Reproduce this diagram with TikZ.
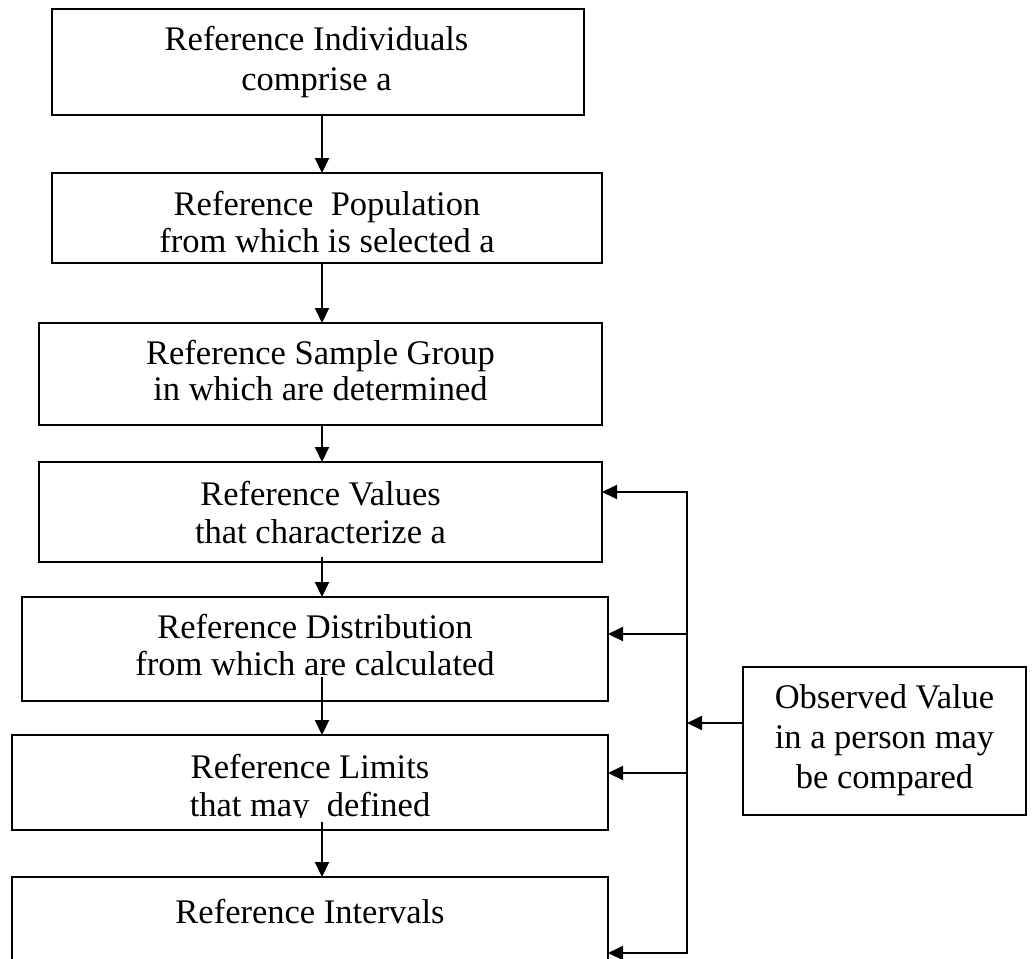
\documentclass[tikz,border=0pt]{standalone}
\usepackage{fontspec}
\setmainfont{Liberation Serif}
\usetikzlibrary{arrows.meta}
\tikzset{
  box/.style={draw, line width=2pt, inner sep=0pt, outer sep=0pt, rectangle},
  txt/.style={inner sep=0pt, outer sep=0pt, anchor=base, font=\fontsize{34.5}{36}\selectfont},
  arr/.style={line width=2pt, -{Triangle[length=15pt, width=14pt]}},
  ln/.style={line width=2pt},
}
\begin{document}
\begin{tikzpicture}[x=1pt, y=-1pt]
\clip (0,0) rectangle (1032,958);
\fill[white] (0,0) rectangle (1032,958);
% boxes
\node[box, minimum width=532pt, minimum height=106pt] (b1) at (318,62) {};
\node[box, minimum width=550pt, minimum height=90pt] (b2) at (327,218) {};
\node[box, minimum width=563pt, minimum height=102pt] (b3) at (320.5,374) {};
\node[box, minimum width=563pt, minimum height=100pt] (b4) at (320.5,512) {};
\node[box, minimum width=586pt, minimum height=104pt] (b5) at (315,649) {};
\node[box, minimum width=596pt, minimum height=95pt] (b6) at (310,782.5) {};
\node[box, minimum width=596pt, minimum height=100pt] (b7) at (310,927) {};
\node[box, minimum width=283pt, minimum height=148pt] (obs) at (884.5,741) {};
% texts
\node[txt] (t1a) at (316.5,51) {Reference Individuals};
\node[txt] (t1b) at (316.5,90) {comprise a};
\node[txt] (t2a) at (327,215) {Reference\ \ Population};
\begin{scope}
\clip (52,173) rectangle (602,253);
\node[txt] (t2b) at (327,252) {from which is selected a};
\end{scope}
\node[txt] (t3a) at (320.5,364) {Reference Sample Group};
\node[txt] (t3b) at (320.5,400) {in which are determined};
\node[txt] (t4a) at (320.5,505) {Reference Values};
\node[txt] (t4b) at (320.5,543) {that characterize a};
\node[txt] (t5a) at (315,638) {Reference Distribution};
\node[txt] (t5b) at (315,675) {from which are calculated};
\node[txt] (t6a) at (310,778) {Reference Limits};
\begin{scope}
\clip (12,735) rectangle (608,817);
\node[txt] (t6b) at (310,816) {that may\ \ defined};
\end{scope}
\node[txt] (t7a) at (310,923) {Reference Intervals};
\node[txt] (toa) at (884.5,708) {Observed Value};
\node[txt] (tob) at (884.5,748) {in a person may};
\node[txt] (toc) at (884.5,788) {be compared};
% down arrows
\coordinate (ax) at (322,0);
\coordinate (s4) at (322,557);
\coordinate (s5) at (322,677);
\coordinate (s6) at (322,822);
\draw[arr] (b1.south -| ax) -- (b2.north -| ax);
\draw[arr] (b2.south -| ax) -- (b3.north -| ax);
\draw[arr] (b3.south -| ax) -- (b4.north -| ax);
\draw[arr] (s4) -- (b5.north -| ax);
\draw[arr] (s5) -- (b6.north -| ax);
\draw[arr] (s6) -- (b7.north -| ax);
% right side bus
\coordinate (vt) at (687,492);
\coordinate (vb) at (687,953);
\coordinate (v5) at (687,634);
\coordinate (v6) at (687,773);
\coordinate (vo) at (687,723);
\draw[ln, line cap=rect] (vt) -- (vb);
\draw[arr] (vt) -- (vt -| b4.east);
\draw[arr] (v5) -- (v5 -| b5.east);
\draw[arr] (v6) -- (v6 -| b6.east);
\draw[arr] (vb) -- (vb -| b7.east);
\draw[arr] (obs.west |- vo) -- (vo);
\end{tikzpicture}
\end{document}
